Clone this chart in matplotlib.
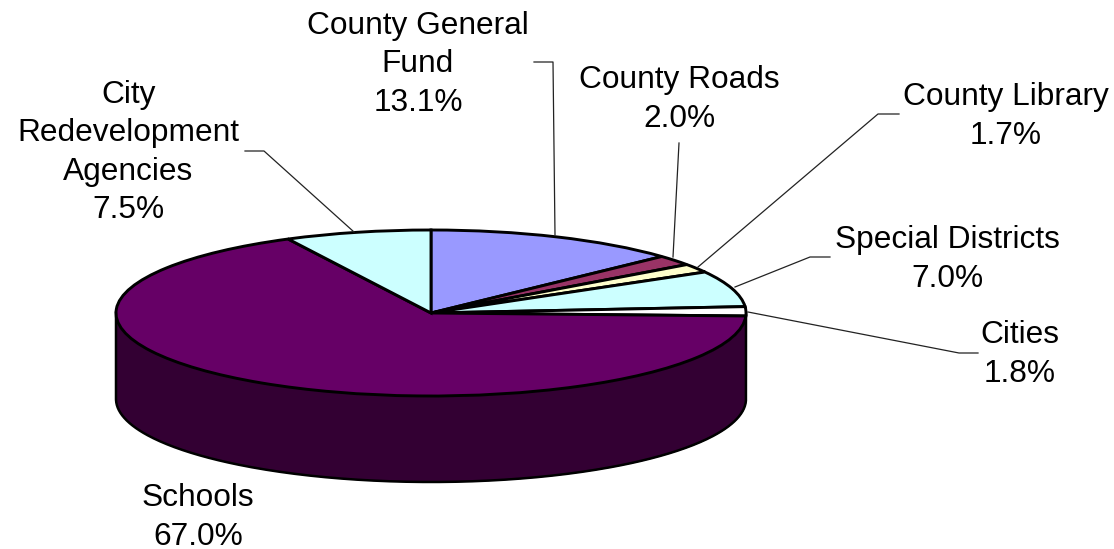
import numpy as np
import matplotlib
matplotlib.use("Agg")
import matplotlib.pyplot as plt

W, H = 1114, 549
CX, CY = 431, 313   # pie centre in pixels
RX, RY = 315, 83    # ellipse radii
DEPTH = 86          # wall height

names = ["County General\nFund", "County Roads", "County Library", "Special Districts",
         "Cities", "Schools", "City\nRedevelopment\nAgencies"]
shares = [13.1, 2.0, 1.7, 7.0, 1.8, 67.0, 7.5]
colors = ["#9999FF", "#993366", "#FFFFCC", "#CCFFFF", "#FFFFFF", "#660066", "#CCFFFF"]

# label centres and leader lines, in pixels from top left
label_pos = [(418, 64.5), (679, 99.5), (1006, 116.5), (947, 259.5), (1020, 354.5), (198, 517.5), (128.5, 152.5)]
leaders = [
    [(534, 62), (553, 62), (555, 235)],
    [(679, 143), (673, 257)],
    [(899, 114), (878, 114), (698, 267)],
    [(830, 257), (810, 257), (735, 287)],
    [(978, 353), (959, 353), (748, 312)],
    [],
    [(245, 151), (264, 151), (354, 232)],
]

plt.rcParams["font.family"] = ["Liberation Sans", "DejaVu Sans"]

fig = plt.figure(figsize=(W / 100, H / 100), dpi=100, facecolor="white")
ax = fig.add_axes([0, 0, 1, 1])


def px(x, y):
    # pixel position to data units of the squashed pie
    return (x - CX) / RX, (CY - y) / RY


# ----- Side wall -----
depth = DEPTH / RY
t = np.linspace(0, np.pi, 300)
xs = np.cos(t)
ax.fill_between(xs, -np.sin(t), -np.sin(t) - depth, color="#330033", lw=0, zorder=1)
ax.plot(np.r_[1, xs, -1], np.r_[0, -np.sin(t) - depth, 0], color="black", lw=1.8, zorder=2)

# ----- Top face -----
ax.pie(shares, colors=colors, startangle=90, counterclock=False, radius=1, center=(0, 0),
       wedgeprops={"edgecolor": "black", "linewidth": 2.1, "zorder": 3}, frame=True)
ax.set_aspect("auto")
ax.set_xlim(px(0, 0)[0], px(W, 0)[0])
ax.set_ylim(px(0, H)[1], px(0, 0)[1])
ax.axis("off")

# ----- Leaders and labels -----
for line in leaders:
    if line:
        pts = [px(*p) for p in line]
        ax.plot([p[0] for p in pts], [p[1] for p in pts], color="#222222", lw=0.9, zorder=4)

for name, val, pos in zip(names, shares, label_pos):
    x, y = px(*pos)
    ax.text(x, y, f"{name}\n{val:.1f}%", ha="center", va="center", fontsize=22.8,
            linespacing=1.37, color="black", zorder=5)

fig.savefig("out.png", dpi=100)
